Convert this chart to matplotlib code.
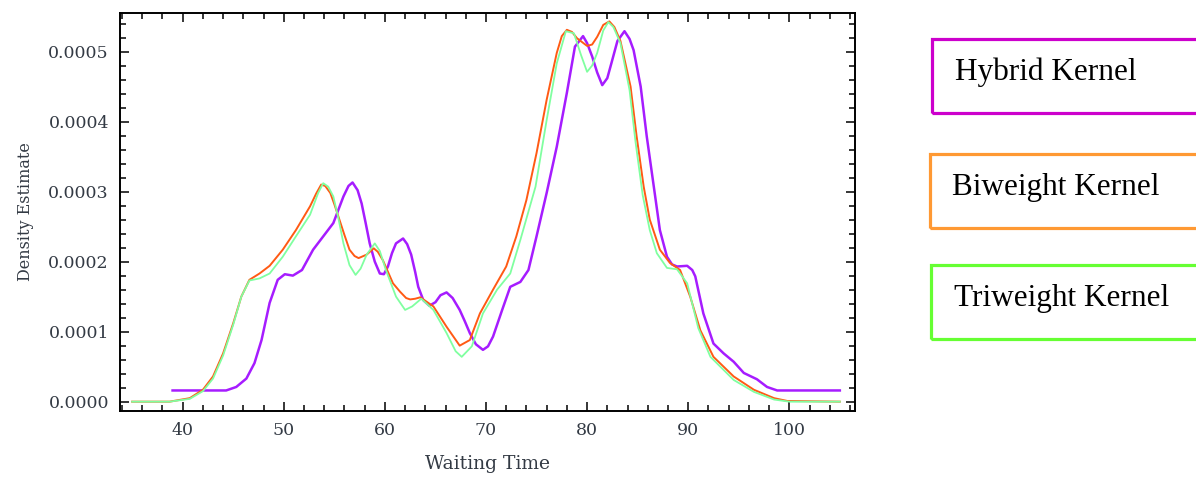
import matplotlib
matplotlib.use("Agg")
import matplotlib.pyplot as plt
from matplotlib.patches import Rectangle
from matplotlib.ticker import MultipleLocator, FormatStrFormatter

# density estimates (y in units of 1e-4)
hybrid_x = [39.0, 44.3, 45.3, 46.3, 47.1, 47.8, 48.6, 49.4, 50.1, 50.9, 51.8, 52.9,
            53.9, 54.9, 55.9, 56.4, 56.8, 57.3, 57.7, 58.1, 58.5, 59.0, 59.5, 59.9,
            60.3, 60.7, 61.1, 61.8, 62.2, 62.6, 63.0, 63.3, 63.8, 64.4, 65.0, 65.5,
            66.1, 66.7, 67.4, 67.9, 68.4, 69.0, 69.7, 70.2, 70.7, 71.6, 72.4, 73.4,
            74.2, 75.0, 76.0, 77.0, 78.0, 78.8, 79.6, 80.0, 80.5, 81.0, 81.5, 82.0,
            82.4, 83.0, 83.7, 84.2, 84.6, 85.3, 85.9, 86.6, 87.2, 87.9, 88.4, 88.9,
            89.9, 90.4, 90.7, 91.5, 92.5, 93.5, 94.5, 95.5, 96.8, 97.8, 98.8, 105.0]
hybrid_y = [0.16, 0.16, 0.21, 0.33, 0.55, 0.88, 1.41, 1.74, 1.82, 1.80, 1.88, 2.17,
            2.36, 2.55, 2.93, 3.08, 3.13, 3.02, 2.83, 2.55, 2.26, 2.00, 1.83, 1.82,
            1.93, 2.12, 2.26, 2.33, 2.25, 2.10, 1.85, 1.64, 1.45, 1.37, 1.42, 1.52,
            1.56, 1.48, 1.31, 1.15, 0.98, 0.82, 0.74, 0.79, 0.93, 1.31, 1.64, 1.71,
            1.88, 2.36, 2.98, 3.64, 4.41, 5.07, 5.22, 5.12, 4.93, 4.70, 4.52, 4.62,
            4.83, 5.15, 5.29, 5.18, 5.02, 4.50, 3.79, 3.07, 2.45, 2.07, 1.96, 1.93,
            1.94, 1.88, 1.79, 1.26, 0.83, 0.69, 0.57, 0.41, 0.32, 0.21, 0.16, 0.16]

biweight_x = [35.0, 38.7, 40.7, 42.0, 43.0, 44.0, 45.0, 45.8, 46.6, 47.6, 48.6, 49.9,
              51.2, 52.6, 53.2, 53.7, 54.1, 54.6, 55.0, 55.5, 56.0, 56.5, 57.0, 57.4,
              58.2, 58.9, 59.3, 59.8, 60.8, 61.5, 62.1, 62.5, 63.0, 63.5, 64.8, 66.1,
              67.4, 68.4, 69.4, 70.7, 72.0, 73.0, 74.0, 75.0, 76.0, 77.0, 77.5, 78.0,
              78.5, 79.0, 80.0, 80.5, 81.0, 81.6, 82.2, 82.7, 83.3, 84.3, 84.9, 85.6,
              86.2, 87.2, 88.2, 89.2, 90.2, 91.2, 92.5, 94.5, 96.5, 98.5, 99.8, 105.0]
biweight_y = [0.0, 0.0, 0.05, 0.17, 0.36, 0.69, 1.12, 1.50, 1.74, 1.83, 1.94, 2.17,
              2.45, 2.79, 2.97, 3.10, 3.08, 2.98, 2.82, 2.60, 2.38, 2.17, 2.08, 2.05,
              2.10, 2.19, 2.14, 2.02, 1.69, 1.57, 1.48, 1.46, 1.47, 1.49, 1.36, 1.07,
              0.80, 0.88, 1.26, 1.60, 1.93, 2.36, 2.88, 3.55, 4.31, 4.98, 5.22, 5.31,
              5.28, 5.19, 5.08, 5.10, 5.21, 5.38, 5.43, 5.35, 5.15, 4.50, 3.79, 3.07,
              2.60, 2.17, 1.98, 1.88, 1.50, 1.02, 0.64, 0.36, 0.17, 0.05, 0.01, 0.0]

triweight_x = [35.0, 38.7, 40.7, 42.0, 43.0, 44.0, 45.0, 45.8, 46.6, 47.6, 48.6, 49.9,
               51.2, 52.6, 53.4, 53.9, 54.4, 54.9, 55.4, 55.9, 56.5, 57.1, 57.6, 58.2,
               59.0, 59.5, 60.1, 61.1, 62.0, 62.7, 63.6, 64.8, 66.1, 67.0, 67.6, 68.6,
               69.7, 71.1, 72.4, 73.4, 74.9, 76.0, 77.0, 77.9, 78.7, 79.4, 80.0, 80.5,
               81.0, 81.6, 82.1, 82.6, 83.3, 84.2, 84.8, 85.5, 86.2, 86.9, 87.9, 88.9,
               89.9, 91.0, 92.2, 94.5, 96.5, 98.5, 100.0, 105.0]
triweight_y = [0.0, 0.0, 0.04, 0.15, 0.33, 0.66, 1.10, 1.50, 1.73, 1.76, 1.83, 2.07,
               2.36, 2.67, 2.98, 3.12, 3.07, 2.93, 2.62, 2.26, 1.95, 1.81, 1.90, 2.10,
               2.26, 2.15, 1.88, 1.50, 1.31, 1.36, 1.47, 1.31, 0.98, 0.72, 0.64, 0.79,
               1.26, 1.60, 1.83, 2.31, 3.07, 4.02, 4.83, 5.29, 5.26, 4.95, 4.71, 4.80,
               4.98, 5.30, 5.42, 5.35, 5.12, 4.45, 3.70, 2.95, 2.45, 2.12, 1.91, 1.89,
               1.69, 1.05, 0.64, 0.31, 0.14, 0.03, 0.0, 0.0]

legend_labels = ["Hybrid Kernel", "Biweight Kernel", "Triweight Kernel"]
legend_colors = ["#cc00cc", "#ff9933", "#66ff33"]

W, H = 1196, 479
fig = plt.figure(figsize=(W / 100, H / 100), dpi=100)
ax = fig.add_axes([120 / W, 1 - 410.7 / H, (855 - 120) / W, (410.7 - 13) / H])

scale = 1e-4
ax.plot(hybrid_x, [v * scale for v in hybrid_y], color="#a61cff", lw=1.8,
        solid_joinstyle="round")
ax.plot(biweight_x, [v * scale for v in biweight_y], color="#ff5a14", lw=1.4,
        solid_joinstyle="round")
ax.plot(triweight_x, [v * scale for v in triweight_y], color="#80ffa0", lw=1.3,
        solid_joinstyle="round")

ax.set_xlim(33.8, 106.5)
ax.set_ylim(-0.0000129, 0.000555)
ax.xaxis.set_major_locator(MultipleLocator(10))
ax.xaxis.set_minor_locator(MultipleLocator(2))
ax.yaxis.set_major_locator(MultipleLocator(0.0001))
ax.yaxis.set_minor_locator(MultipleLocator(0.00002))
ax.yaxis.set_major_formatter(FormatStrFormatter("%.4f"))

tick_color = "#333a44"
ax.tick_params(which="both", direction="in", top=True, right=True, width=1.1,
               colors="black", labelcolor=tick_color)
ax.tick_params(which="major", length=6.5, pad=8)
ax.tick_params(which="minor", length=4)
for lab in ax.get_xticklabels() + ax.get_yticklabels():
    lab.set_family("DejaVu Serif")
    lab.set_fontsize(12.5)
for sp in ax.spines.values():
    sp.set_linewidth(1.4)

ax.set_xlabel("Waiting Time", family="DejaVu Serif", fontsize=13.5,
              color=tick_color, labelpad=12)
ax.set_ylabel("Density Estimate", family="DejaVu Serif", fontsize=11.5,
              color=tick_color, labelpad=10)

# legend boxes drawn on the right (open on the right edge)
box_left = [932, 929.5, 931]
box_top = [38.5, 153.5, 264.5]
box_h = 74
text_left = [955, 951.7, 954]
text_base = [80, 195, 306]
for i in range(3):
    rect = Rectangle((box_left[i] / W, 1 - (box_top[i] + box_h) / H),
                     (W + 20 - box_left[i]) / W, box_h / H,
                     transform=fig.transFigure, fill=False,
                     edgecolor=legend_colors[i], lw=2.3, clip_on=False)
    fig.patches.append(rect)
    fig.text(text_left[i] / W, 1 - text_base[i] / H, legend_labels[i],
             family="Liberation Serif", fontsize=22.5, va="baseline", ha="left")

fig.savefig("out.png", dpi=100)
